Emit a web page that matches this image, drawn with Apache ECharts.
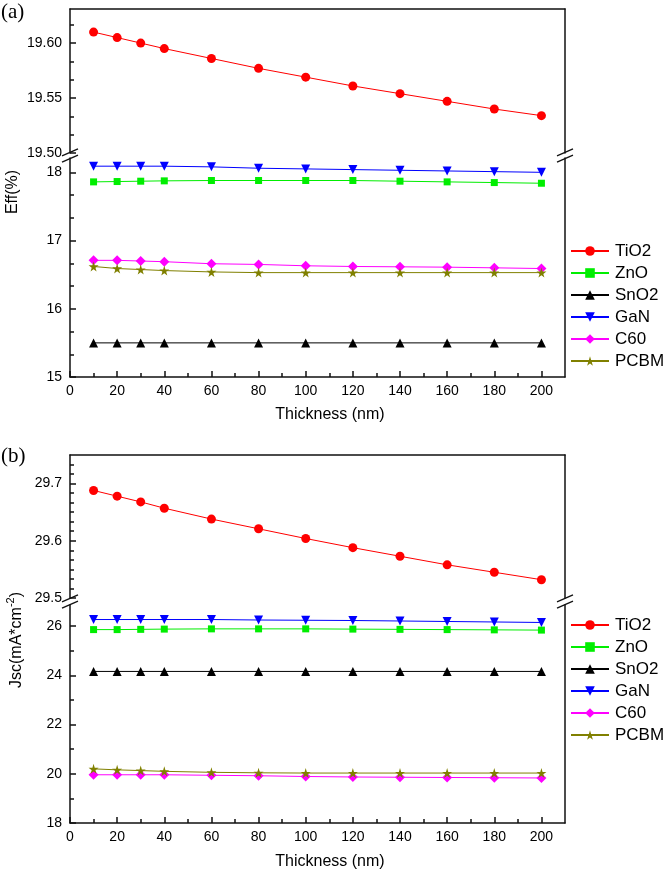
<!DOCTYPE html>
<html><head><meta charset="utf-8">
<script src="https://cdn.jsdelivr.net/npm/echarts@6/dist/echarts.min.js"></script>
<style>html,body{margin:0;padding:0;background:#fff}#c{width:664px;height:871px}</style>
</head><body><div id="c"></div>
<script>
// ---------- data ----------
const thickness = [10, 20, 30, 40, 60, 80, 100, 120, 140, 160, 180, 200];
const seriesNames = ['TiO2', 'ZnO', 'SnO2', 'GaN', 'C60', 'PCBM'];

// (a) Eff (%)
const effTiO2 = [19.610, 19.605, 19.600, 19.595, 19.586, 19.577, 19.569, 19.561, 19.554, 19.547, 19.540, 19.534];
const effZnO  = [17.86, 17.865, 17.87, 17.875, 17.88, 17.88, 17.88, 17.88, 17.87, 17.86, 17.85, 17.84];
const effSnO2 = [15.50, 15.50, 15.50, 15.50, 15.50, 15.50, 15.50, 15.50, 15.50, 15.50, 15.50, 15.50];
const effGaN  = [18.09, 18.09, 18.09, 18.09, 18.08, 18.06, 18.05, 18.04, 18.03, 18.02, 18.01, 18.00];
const effC60  = [16.71, 16.71, 16.70, 16.69, 16.66, 16.65, 16.63, 16.62, 16.615, 16.61, 16.60, 16.59];
const effPCBM = [16.62, 16.59, 16.575, 16.56, 16.54, 16.53, 16.53, 16.53, 16.53, 16.53, 16.53, 16.53];

// (b) Jsc (mA*cm^-2)
const jscTiO2 = [29.688, 29.678, 29.668, 29.657, 29.638, 29.621, 29.604, 29.588, 29.573, 29.558, 29.545, 29.532];
const jscZnO  = [25.86, 25.86, 25.87, 25.88, 25.89, 25.89, 25.89, 25.88, 25.87, 25.86, 25.85, 25.84];
const jscSnO2 = [24.16, 24.16, 24.16, 24.16, 24.16, 24.16, 24.16, 24.16, 24.16, 24.16, 24.16, 24.16];
const jscGaN  = [26.27, 26.27, 26.27, 26.27, 26.27, 26.25, 26.24, 26.23, 26.21, 26.19, 26.17, 26.15];
const jscC60  = [19.96, 19.96, 19.96, 19.96, 19.94, 19.92, 19.89, 19.87, 19.86, 19.85, 19.84, 19.83];
const jscPCBM = [20.20, 20.16, 20.13, 20.10, 20.06, 20.04, 20.03, 20.03, 20.03, 20.03, 20.03, 20.03];

// ticks
const xTicks = [0, 20, 40, 60, 80, 100, 120, 140, 160, 180, 200];
const xMinorTicks = [10, 30, 50, 70, 90, 110, 130, 150, 170, 190];
const effUpperTicks = [19.50, 19.55, 19.60];
const effUpperMinor = [19.5167, 19.5333, 19.5667, 19.5833, 19.6167];
const effLowerTicks = [15, 16, 17, 18];
const effLowerMinor = [15.333, 15.667, 16.333, 16.667, 17.333, 17.667];
const jscUpperTicks = [29.5, 29.6, 29.7];
const jscUpperMinor = [29.5167, 29.5333, 29.55, 29.5667, 29.5833, 29.6167, 29.6333, 29.65, 29.6667, 29.6833, 29.7167, 29.7333];
const jscLowerTicks = [18, 20, 22, 24, 26];
const jscLowerMinor = [19, 21, 23, 25];

// axis ranges
const xRange = [0, 210];
const effUpperRange = [19.50, 19.631];
const effLowerRange = [15, 18.21];
const jscUpperRange = [29.5, 29.75];
const jscLowerRange = [18, 26.86];

// ---------- styles ----------
const FONT = 'Liberation Sans, Arial, sans-serif';
const AX = { color: '#111', width: 1.5 };
const STAR = 'path://M50,0 L61,35 L98,35 L68,57 L79,91 L50,70 L21,91 L32,57 L2,35 L39,35 Z';
const DOWN = 'path://M0,0 L10,0 L5,9 Z';
const styles = {
  TiO2: { color: '#ff0000', symbol: 'circle', size: 9 },
  ZnO:  { color: '#00ee00', symbol: 'rect', size: 7 },
  SnO2: { color: '#000000', symbol: 'triangle', size: 9 },
  GaN:  { color: '#0000ff', symbol: DOWN, size: 9 },
  C60:  { color: '#ff00ff', symbol: 'diamond', size: 10 },
  PCBM: { color: '#808000', symbol: STAR, size: 10 }
};

const G = [
  { left: 70, width: 495, top: 9, height: 144 },
  { left: 70, width: 495, top: 158, height: 219 },
  { left: 70, width: 495, top: 455, height: 143 },
  { left: 70, width: 495, top: 605, height: 218 }
];

function topX(g) {
  return { gridIndex: g, type: 'value', position: 'top', min: xRange[0], max: xRange[1],
    axisLine: { show: true, onZero: false, lineStyle: AX }, axisTick: { show: false },
    axisLabel: { show: false }, splitLine: { show: false } };
}
function bottomX(g) {
  return { gridIndex: g, type: 'value', position: 'bottom', min: xRange[0], max: xRange[1],
    axisLine: { show: true, onZero: false, lineStyle: AX },
    axisTick: { show: true, inside: true, length: 6, customValues: xTicks, lineStyle: AX },
    axisLabel: { show: true, customValues: xTicks, margin: 7, fontSize: 14, fontFamily: FONT, color: '#000' },
    splitLine: { show: false } };
}
function minorX(g) {
  return { gridIndex: g, type: 'value', position: 'bottom', min: xRange[0], max: xRange[1],
    axisLine: { show: false, onZero: false },
    axisTick: { show: true, inside: true, length: 4, customValues: xMinorTicks, lineStyle: AX },
    axisLabel: { show: false }, splitLine: { show: false } };
}
function leftY(g, range, ticks, dec) {
  return { gridIndex: g, type: 'value', position: 'left', min: range[0], max: range[1],
    axisLine: { show: true, onZero: false, lineStyle: AX },
    axisTick: { show: true, inside: true, length: 6, customValues: ticks, lineStyle: AX },
    axisLabel: { show: true, customValues: ticks, margin: 8, fontSize: 14, fontFamily: FONT, color: '#000',
      formatter: v => Number(v).toFixed(dec) },
    splitLine: { show: false } };
}
function minorY(g, range, ticks) {
  return { gridIndex: g, type: 'value', position: 'left', min: range[0], max: range[1],
    axisLine: { show: false, onZero: false },
    axisTick: { show: true, inside: true, length: 4, customValues: ticks, lineStyle: AX },
    axisLabel: { show: false }, splitLine: { show: false } };
}
function rightY(g, range) {
  return { gridIndex: g, type: 'value', position: 'right', min: range[0], max: range[1],
    axisLine: { show: true, onZero: false, lineStyle: AX }, axisTick: { show: false },
    axisLabel: { show: false }, splitLine: { show: false } };
}

const xAxis = [topX(0), bottomX(1), minorX(1), topX(2), bottomX(3), minorX(3)];
const yAxis = [
  leftY(0, effUpperRange, effUpperTicks, 2), minorY(0, effUpperRange, effUpperMinor), rightY(0, effUpperRange),
  leftY(1, effLowerRange, effLowerTicks, 0), minorY(1, effLowerRange, effLowerMinor), rightY(1, effLowerRange),
  leftY(2, jscUpperRange, jscUpperTicks, 1), minorY(2, jscUpperRange, jscUpperMinor), rightY(2, jscUpperRange),
  leftY(3, jscLowerRange, jscLowerTicks, 0), minorY(3, jscLowerRange, jscLowerMinor), rightY(3, jscLowerRange)
];

function mk(name, vals, xi, yi) {
  const s = styles[name];
  return { name, type: 'line', xAxisIndex: xi, yAxisIndex: yi,
    data: thickness.map((t, i) => [t, vals[i]]),
    symbol: s.symbol, symbolSize: s.size, showSymbol: true,
    itemStyle: { color: s.color, borderWidth: 0 },
    lineStyle: { color: s.color, width: 1 },
    animation: false, silent: true, z: 3 };
}

const effVals = { TiO2: effTiO2, ZnO: effZnO, SnO2: effSnO2, GaN: effGaN, C60: effC60, PCBM: effPCBM };
const jscVals = { TiO2: jscTiO2, ZnO: jscZnO, SnO2: jscSnO2, GaN: jscGaN, C60: jscC60, PCBM: jscPCBM };
const series = [];
seriesNames.forEach(n => series.push(n === 'TiO2' ? mk(n, effVals[n], 0, 0) : mk(n, effVals[n], 1, 3)));
seriesNames.forEach(n => series.push(n === 'TiO2' ? mk(n, jscVals[n], 3, 6) : mk(n, jscVals[n], 4, 9)));

function legend(top) {
  return { orient: 'vertical', left: 570, top: top, padding: 0, itemWidth: 38, itemHeight: 12, itemGap: 4,
    selectedMode: false, data: seriesNames,
    textStyle: { fontSize: 17, fontFamily: FONT, color: '#000', padding: [0, 0, 0, 1], lineHeight: 18 } };
}

function brk(cx, cy) {
  const out = [];
  [-3.2, 3.2].forEach(off => {
    out.push({ type: 'line', shape: { x1: cx - 8, y1: cy + off + 3.5, x2: cx + 8, y2: cy + off - 3.5 },
      style: { stroke: '#111', lineWidth: 1.3 }, z: 10 });
  });
  return out;
}

const graphic = [
  { type: 'text', x: 1, y: 2, style: { text: '(a)', font: '21px "Liberation Serif", serif', fill: '#000' } },
  { type: 'text', x: 1, y: 446, style: { text: '(b)', font: '21px "Liberation Serif", serif', fill: '#000' } },
  { type: 'text', x: 13, y: 192, rotation: Math.PI / 2,
    style: { text: 'Eff(%)', font: '16px ' + FONT, fill: '#000', align: 'center', verticalAlign: 'middle' } },
  { type: 'text', x: 15, y: 640, rotation: Math.PI / 2,
    style: { text: '{n|Jsc(mA*cm}{s|-2}{n|)}', align: 'center', verticalAlign: 'middle',
      rich: { n: { fontSize: 16, fontFamily: FONT, fill: '#000', lineHeight: 20, verticalAlign: 'bottom' },
              s: { fontSize: 11, fontFamily: FONT, fill: '#000', lineHeight: 20, verticalAlign: 'top' } } } },
  { type: 'text', x: 330, y: 415, style: { text: 'Thickness (nm)', font: '16px ' + FONT, fill: '#000', align: 'center', verticalAlign: 'middle' } },
  { type: 'text', x: 330, y: 862, style: { text: 'Thickness (nm)', font: '16px ' + FONT, fill: '#000', align: 'center', verticalAlign: 'middle' } }
].concat(brk(70, 155.5), brk(565, 155.5), brk(70, 601.5), brk(565, 601.5));

const chart = echarts.init(document.getElementById('c'), null, { renderer: 'canvas' });
chart.setOption({
  animation: false,
  backgroundColor: '#fff',
  grid: G,
  xAxis, yAxis, series,
  legend: [legend(242), legend(616)],
  graphic
});
</script></body></html>
